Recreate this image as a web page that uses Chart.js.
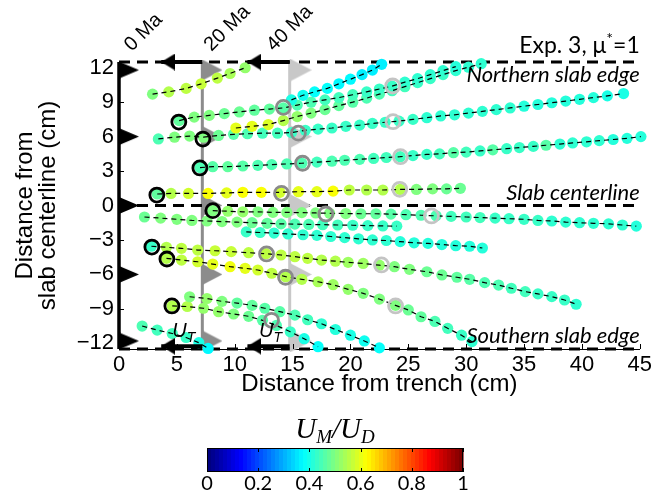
<!DOCTYPE html>
<html>
<head>
<meta charset="utf-8">
<title>Exp. 3 particle paths</title>
<script src="https://cdn.jsdelivr.net/npm/chart.js@4.4.1/dist/chart.umd.min.js"></script>
<style>
  body { margin: 0; background: #fff; }
  canvas { display: block; }
</style>
</head>
<body>
<canvas id="myChart" width="657" height="493"></canvas>
<script>
// axes
var xRange = [0, 45];
var yRange = [-12.5, 12.5];
var xTicks = [0, 5, 10, 15, 20, 25, 30, 35, 40, 45];
var yTicks = [-12, -9, -6, -3, 0, 3, 6, 9, 12];
var yTickLabels = ["\u221212", "\u22129", "\u22126", "\u22123", "0", "3", "6", "9", "12"];
var cbTicks = [0, 0.2, 0.4, 0.6, 0.8, 1];
var cbTickLabels = ["0", "0.2", "0.4", "0.6", "0.8", "1"];

// particle tracks: x (cm from trench), y (cm from slab centerline), c = U_M/U_D
var t1x = [2.9, 4.3, 5.8, 7.1, 8.5, 9.6, 10.9];
var t1y = [9.7, 9.9, 10.2, 10.6, 11.1, 11.5, 12.0];
var t1c = [0.5, 0.55, 0.56, 0.57, 0.56, 0.54, 0.52];

var t2x = [14.9, 15.9, 16.9, 18.0, 19.0, 20.0, 21.0, 21.9, 22.7];
var t2y = [9.2, 9.6, 9.9, 10.2, 10.6, 11.0, 11.4, 11.8, 12.3];
var t2c = [0.4, 0.39, 0.38, 0.38, 0.37, 0.37, 0.36, 0.36, 0.36];

var t3x = [5.2, 6.5, 7.8, 9.1, 10.4, 11.7, 13.0, 14.2, 15.4, 16.6, 17.8, 19.0, 20.2, 21.4, 22.5, 23.6, 24.7, 25.8, 26.9, 28.0, 29.1];
var t3y = [7.4, 7.7, 7.85, 8.0, 8.15, 8.3, 8.4, 8.5, 8.75, 9.0, 9.2, 9.4, 9.65, 9.9, 10.15, 10.4, 10.75, 11.05, 11.4, 11.75, 12.1];
var t3c = [0.47, 0.5, 0.5, 0.48, 0.48, 0.47, 0.47, 0.46, 0.45, 0.45, 0.44, 0.44, 0.44, 0.43, 0.43, 0.43, 0.42, 0.42, 0.42, 0.42, 0.41];

var t4x = [10.1, 11.5, 12.9, 14.2, 15.4, 16.6, 17.8, 19.0, 20.2, 21.4, 22.5, 23.6, 24.7, 25.8, 26.9, 28.0, 29.1, 30.2, 31.3];
var t4y = [6.75, 6.9, 7.05, 7.4, 7.75, 8.05, 8.35, 8.7, 9.0, 9.35, 9.7, 10.0, 10.35, 10.7, 11.05, 11.4, 11.75, 12.05, 12.35];
var t4c = [0.6, 0.6, 0.59, 0.55, 0.52, 0.5, 0.48, 0.47, 0.46, 0.45, 0.45, 0.44, 0.44, 0.43, 0.43, 0.43, 0.42, 0.42, 0.42];

var t5x = [3.4, 4.8, 6.1, 7.3, 8.6, 9.9, 11.1, 12.4, 13.7, 14.9, 16.1, 17.2, 18.4, 19.6, 20.8, 21.9, 23.0, 24.2, 25.4, 26.6, 27.8, 29.0, 30.2, 31.4, 32.6, 33.8, 35.0, 36.2, 37.4, 38.6, 39.8, 41.0, 42.2, 43.6];
var t5y = [5.8, 5.95, 6.05, 5.95, 6.1, 6.2, 6.25, 6.3, 6.3, 6.35, 6.55, 6.65, 6.75, 6.9, 7.0, 7.15, 7.25, 7.35, 7.5, 7.65, 7.8, 7.9, 8.05, 8.2, 8.35, 8.5, 8.65, 8.8, 8.95, 9.1, 9.25, 9.4, 9.55, 9.75];
var t5c = [0.45, 0.5, 0.5, 0.5, 0.48, 0.46, 0.45, 0.44, 0.44, 0.43, 0.43, 0.43, 0.43, 0.43, 0.43, 0.43, 0.43, 0.43, 0.43, 0.42, 0.42, 0.42, 0.42, 0.42, 0.42, 0.42, 0.41, 0.41, 0.41, 0.41, 0.41, 0.41, 0.4, 0.4];

var t6x = [7.0, 8.1, 9.4, 10.7, 12.0, 13.2, 14.5, 15.8, 17.1, 18.4, 19.5, 20.8, 22.0, 23.1, 24.3, 25.4, 26.6, 27.7, 28.9, 30.0, 31.2, 32.3, 33.5, 34.6, 35.8, 36.9, 38.1, 39.2, 40.4, 41.5, 42.7, 43.9, 45.1];
var t6y = [3.3, 3.38, 3.38, 3.44, 3.5, 3.56, 3.62, 3.68, 3.78, 3.86, 3.94, 4.02, 4.1, 4.18, 4.25, 4.35, 4.45, 4.5, 4.6, 4.65, 4.75, 4.85, 4.95, 5.05, 5.15, 5.25, 5.35, 5.45, 5.55, 5.65, 5.75, 5.85, 6.0];
var t6c = [0.45, 0.46, 0.47, 0.46, 0.45, 0.45, 0.45, 0.45, 0.44, 0.45, 0.45, 0.45, 0.44, 0.44, 0.44, 0.43, 0.43, 0.44, 0.46, 0.44, 0.43, 0.46, 0.43, 0.43, 0.43, 0.46, 0.42, 0.42, 0.42, 0.42, 0.41, 0.41, 0.41];

var t7x = [3.3, 4.5, 6.0, 7.7, 9.3, 10.7, 12.3, 13.9, 15.5, 17.1, 18.5, 19.9, 21.4, 22.8, 24.3, 25.7, 27.1, 28.3, 29.5];
var t7y = [1.0, 1.05, 1.05, 1.05, 1.1, 1.15, 1.15, 1.15, 1.2, 1.2, 1.25, 1.35, 1.35, 1.35, 1.4, 1.4, 1.45, 1.45, 1.5];
var t7c = [0.47, 0.55, 0.58, 0.62, 0.6, 0.62, 0.62, 0.58, 0.6, 0.6, 0.62, 0.56, 0.55, 0.55, 0.55, 0.5, 0.5, 0.48, 0.48];

var t8x = [8.1, 9.4, 10.7, 12.0, 13.3, 14.5, 15.8, 17.0, 18.2, 19.6, 20.9, 22.2, 23.5, 24.8, 26.1, 27.4, 28.7, 30.0, 31.2, 32.5, 33.7, 35.0, 36.2, 37.4, 38.6, 39.8, 41.0, 42.3, 43.5, 44.7];
var t8y = [-0.45, -0.5, -0.55, -0.55, -0.6, -0.6, -0.62, -0.65, -0.68, -0.7, -0.72, -0.72, -0.75, -0.8, -0.85, -0.9, -0.95, -1.0, -1.05, -1.1, -1.15, -1.2, -1.3, -1.35, -1.45, -1.5, -1.55, -1.6, -1.7, -1.8];
var t8c = [0.5, 0.52, 0.52, 0.5, 0.5, 0.5, 0.5, 0.5, 0.5, 0.5, 0.48, 0.47, 0.46, 0.45, 0.45, 0.45, 0.44, 0.44, 0.44, 0.43, 0.43, 0.43, 0.43, 0.42, 0.42, 0.42, 0.42, 0.42, 0.42, 0.41];

var t9x = [2.2, 3.6, 5.0, 6.3, 7.6, 8.9, 10.2, 11.5, 12.8, 14.0, 15.2, 16.4, 17.6, 18.9, 20.2, 21.5, 22.8, 24.0];
var t9y = [-1.0, -1.1, -1.2, -1.3, -1.35, -1.4, -1.45, -1.5, -1.55, -1.6, -1.62, -1.65, -1.67, -1.7, -1.72, -1.75, -1.78, -1.8];
var t9c = [0.48, 0.5, 0.5, 0.5, 0.5, 0.5, 0.5, 0.48, 0.47, 0.46, 0.45, 0.45, 0.44, 0.44, 0.43, 0.43, 0.43, 0.43];

var t10x = [11.0, 12.2, 13.4, 14.6, 15.9, 17.1, 18.3, 19.5, 20.7, 21.9, 23.1, 24.3, 25.5, 26.7, 27.9, 29.1, 30.3, 31.4];
var t10y = [-2.3, -2.35, -2.4, -2.48, -2.55, -2.6, -2.7, -2.8, -2.9, -3.0, -3.05, -3.15, -3.25, -3.3, -3.4, -3.5, -3.55, -3.7];
var t10c = [0.43, 0.43, 0.42, 0.42, 0.42, 0.42, 0.42, 0.42, 0.42, 0.42, 0.42, 0.41, 0.41, 0.41, 0.41, 0.41, 0.41, 0.41];

var t11x = [2.8, 4.1, 5.4, 6.8, 8.3, 9.7, 11.2, 12.7, 14.0, 15.2, 16.3, 17.5, 18.7, 19.8, 21.1, 22.5, 23.8, 25.1, 26.6, 27.9, 29.2, 30.3, 31.6, 32.8, 33.9, 35.1, 36.2, 37.4, 38.5, 39.5];
var t11y = [-3.55, -3.64, -3.73, -3.88, -3.94, -4.02, -4.11, -4.2, -4.31, -4.46, -4.6, -4.75, -4.85, -4.95, -5.05, -5.2, -5.33, -5.56, -5.77, -6.05, -6.25, -6.43, -6.72, -6.93, -7.21, -7.5, -7.7, -7.94, -8.23, -8.6];
var t11c = [0.43, 0.55, 0.56, 0.56, 0.57, 0.57, 0.56, 0.56, 0.56, 0.56, 0.56, 0.55, 0.55, 0.53, 0.53, 0.52, 0.5, 0.5, 0.48, 0.48, 0.47, 0.46, 0.45, 0.45, 0.44, 0.44, 0.43, 0.43, 0.43, 0.42];

var t12x = [4.1, 5.4, 6.8, 8.1, 9.6, 10.9, 12.0, 13.2, 14.4, 15.8, 17.2, 18.5, 19.8, 21.1, 22.5, 23.9, 25.0, 26.1, 27.3, 28.4, 29.6, 30.5];
var t12y = [-4.6, -4.75, -4.9, -5.1, -5.33, -5.47, -5.62, -5.9, -6.2, -6.43, -6.64, -6.9, -7.3, -7.65, -8.15, -8.7, -9.1, -9.69, -10.1, -10.7, -11.3, -11.86];
var t12c = [0.55, 0.56, 0.58, 0.6, 0.61, 0.6, 0.58, 0.56, 0.55, 0.55, 0.54, 0.53, 0.52, 0.5, 0.5, 0.5, 0.48, 0.47, 0.45, 0.44, 0.43, 0.42];

var t13x = [6.1, 7.6, 8.9, 10.2, 11.5, 12.6, 13.9, 15.2, 16.3, 17.5, 18.7, 20.0, 21.2, 22.5];
var t13y = [-7.95, -8.1, -8.35, -8.5, -8.7, -8.95, -9.25, -9.55, -9.95, -10.3, -10.8, -11.3, -11.8, -12.4];
var t13c = [0.5, 0.52, 0.5, 0.47, 0.47, 0.46, 0.46, 0.45, 0.44, 0.42, 0.41, 0.4, 0.39, 0.38];

var t14x = [4.6, 5.9, 7.3, 8.6, 9.9, 11.2, 12.4, 13.6, 14.8, 16.0, 17.2];
var t14y = [-8.75, -8.8, -8.95, -9.25, -9.45, -9.65, -10.0, -10.45, -11.0, -11.6, -12.3];
var t14c = [0.55, 0.55, 0.52, 0.52, 0.5, 0.48, 0.46, 0.45, 0.43, 0.4, 0.38];

var t15x = [2.0, 3.3, 4.6, 5.8, 6.9, 7.7];
var t15y = [-10.5, -10.85, -11.15, -11.5, -11.95, -12.45];
var t15c = [0.45, 0.44, 0.44, 0.43, 0.4, 0.37];

// particle positions at 0, 20 and 40 Ma
var ma0X = [5.17, 7.25, 6.99, 3.27, 8.11, 2.84, 4.14, 4.57];
var ma0Y = [7.27, 5.79, 3.27, 0.91, -0.45, -3.62, -4.66, -8.75];
var ma20X = [14.2, 15.5, 15.86, 14.04, 17.87, 12.75, 14.39, 13.18];
var ma20Y = [8.55, 6.3, 3.68, 1.06, -0.74, -4.22, -6.25, -10.0];
var ma40X = [23.65, 23.68, 24.32, 24.26, 27.0, 22.68, 23.9];
var ma40Y = [10.41, 7.3, 4.25, 1.41, -0.91, -5.18, -8.75];

// trench positions at 0, 20, 40 Ma and trench-motion arrows
var trenchX = [0, 7.2, 14.75];
var flagY = [11.8, 6, 0, -6, -11.8];
var edgeY = [12.5, 0, -12.5];
var arrowY = [12.5, -12.25];
var arrowTailX = [7.2, 14.75];
var arrowTipX = [3.65, 11.1];

var timeLabels = ["0 Ma", "20 Ma", "40 Ma"];
var timeLabelX = [1.1, 8.0, 13.4];
var edgeLabels = ["Northern slab edge", "Slab centerline", "Southern slab edge"];
var edgeLabelY = [10.76, 0.48, -11.98];
var utLabelX = [4.6, 12.1];
var utLabelY = -11.45;
var expLabelY = 13.3;

function jet(v) {
    var r = Math.min(1, Math.max(0, 1.5 - Math.abs(4 * v - 3)));
    var g = Math.min(1, Math.max(0, 1.5 - Math.abs(4 * v - 2)));
    var b = Math.min(1, Math.max(0, 1.5 - Math.abs(4 * v - 1)));
    return "rgb(" + Math.round(r * 255) + "," + Math.round(g * 255) + "," + Math.round(b * 255) + ")";
}

function pts(xs, ys) {
    return xs.map(function (x, i) { return { x: x, y: ys[i] }; });
}

// right-pointing flag whose flat side sits on the point
function flagImage(color, w, h) {
    var c = document.createElement("canvas");
    c.width = w * 2;
    c.height = h;
    var g = c.getContext("2d");
    g.fillStyle = color;
    g.beginPath();
    g.moveTo(w, 0);
    g.lineTo(2 * w, h / 2);
    g.lineTo(w, h);
    g.closePath();
    g.fill();
    return c;
}

// left-pointing arrow head whose tip sits on the point
function headImage(w, h) {
    var c = document.createElement("canvas");
    c.width = w * 2;
    c.height = h;
    var g = c.getContext("2d");
    g.fillStyle = "#000";
    g.beginPath();
    g.moveTo(w, h / 2);
    g.lineTo(2 * w, 0);
    g.lineTo(2 * w, h);
    g.closePath();
    g.fill();
    return c;
}

var tracks = [
    [t1x, t1y, t1c], [t2x, t2y, t2c], [t3x, t3y, t3c], [t4x, t4y, t4c], [t5x, t5y, t5c],
    [t6x, t6y, t6c], [t7x, t7y, t7c], [t8x, t8y, t8c], [t9x, t9y, t9c], [t10x, t10y, t10c],
    [t11x, t11y, t11c], [t12x, t12y, t12c], [t13x, t13y, t13c], [t14x, t14y, t14c], [t15x, t15y, t15c]
];

var timeColors = ["#000000", "#8c8c8c", "#c8c8c8"];
var flagSizes = [[20, 17], [20, 21], [22, 23]];
var datasets = [];

trenchX.forEach(function (x, i) {
    datasets.push({
        data: [{ x: x, y: yRange[0] }, { x: x, y: yRange[1] }],
        showLine: true, borderColor: timeColors[i], borderWidth: i === 0 ? 3.5 : 3,
        pointRadius: 0, order: 20, clip: false
    });
    datasets.push({
        data: flagY.map(function (y) { return { x: x, y: y }; }),
        pointStyle: flagImage(timeColors[i], flagSizes[i][0], flagSizes[i][1]),
        pointRadius: 5, showLine: false, order: 16, clip: false
    });
});

edgeY.forEach(function (y) {
    datasets.push({
        data: [{ x: xRange[0], y: y }, { x: xRange[1], y: y }],
        showLine: true, borderColor: "#000", borderWidth: 3, borderDash: [11, 7],
        pointRadius: 0, order: 17, clip: false
    });
});

tracks.forEach(function (t) {
    datasets.push({
        data: pts(t[0], t[1]),
        showLine: false, pointRadius: 5.6, pointBorderWidth: 0,
        pointBackgroundColor: t[2].map(jet), order: 15, clip: false
    });
    datasets.push({
        data: pts(t[0], t[1]),
        showLine: true, borderColor: "#000", borderWidth: 1.2, borderDash: [5, 4],
        pointRadius: 0, order: 12, clip: false
    });
});

[[ma0X, ma0Y], [ma20X, ma20Y], [ma40X, ma40Y]].forEach(function (m, i) {
    datasets.push({
        data: pts(m[0], m[1]),
        showLine: false, pointRadius: 7, pointBorderWidth: 2.8,
        pointBorderColor: i === 0 ? "#000" : (i === 1 ? "#8a8a8a" : "#c4c4c4"),
        pointBackgroundColor: "rgba(0,0,0,0)", order: 5 - i, clip: false
    });
});

var head = headImage(14, 17);
arrowY.forEach(function (y) {
    arrowTailX.forEach(function (x, i) {
        datasets.push({
            data: [{ x: x, y: y }, { x: arrowTipX[i], y: y }],
            showLine: true, borderColor: "#000", borderWidth: 4,
            pointRadius: [0, 5], pointStyle: head, order: 1, clip: false
        });
    });
});

function drawRuns(ctx, runs, x, y, align) {
    var total = 0;
    runs.forEach(function (r) { ctx.font = r.font; total += ctx.measureText(r.t).width; });
    var cx = align === "right" ? x - total : (align === "center" ? x - total / 2 : x);
    runs.forEach(function (r) {
        ctx.font = r.font;
        ctx.fillText(r.t, cx, y + (r.dy || 0));
        cx += ctx.measureText(r.t).width;
    });
}

var annotations = {
    id: "annotations",
    afterDraw: function (chart) {
        var ctx = chart.ctx, xs = chart.scales.x, ys = chart.scales.y, area = chart.chartArea;
        ctx.save();
        ctx.strokeStyle = "#000";
        ctx.lineWidth = 1;
        xTicks.forEach(function (v) {
            var px = Math.round(xs.getPixelForValue(v)) + 0.5;
            ctx.beginPath(); ctx.moveTo(px, area.bottom); ctx.lineTo(px, area.bottom - 5); ctx.stroke();
        });
        yTicks.forEach(function (v) {
            var py = Math.round(ys.getPixelForValue(v)) + 0.5;
            ctx.beginPath(); ctx.moveTo(area.left, py); ctx.lineTo(area.left + 5, py); ctx.stroke();
        });

        ctx.fillStyle = "#000";
        ctx.textBaseline = "alphabetic";
        ctx.textAlign = "left";
        ctx.font = "20px 'Liberation Sans'";
        timeLabels.forEach(function (t, i) {
            ctx.save();
            ctx.translate(xs.getPixelForValue(timeLabelX[i]), area.top - 10);
            ctx.rotate(-Math.PI / 4);
            ctx.fillText(t, 0, 0);
            ctx.restore();
        });

        ctx.font = "italic 22px Lato";
        ctx.textAlign = "right";
        edgeLabels.forEach(function (t, i) {
            ctx.fillText(t, area.right, ys.getPixelForValue(edgeLabelY[i]));
        });
        ctx.textAlign = "left";
        drawRuns(ctx, [
            { t: "Exp. 3, \u03bc", font: "23px Lato" },
            { t: "*", font: "16px Lato", dy: -9 },
            { t: "=1", font: "23px Lato" }
        ], area.right, ys.getPixelForValue(expLabelY), "right");

        utLabelX.forEach(function (x) {
            drawRuns(ctx, [
                { t: "U", font: "italic 20px 'Liberation Sans'" },
                { t: "T", font: "italic 14px 'Liberation Sans'", dy: 5 }
            ], xs.getPixelForValue(x), ys.getPixelForValue(utLabelY), "left");
        });

        // colour bar
        var L = 207, R = 463, T = 448, B = 472, n = 64;
        for (var k = 0; k < n; k++) {
            ctx.fillStyle = jet(k / (n - 1));
            ctx.fillRect(L + (R - L) * k / n, T, (R - L) / n + 0.6, B - T);
        }
        ctx.strokeStyle = "#000";
        ctx.lineWidth = 1;
        ctx.strokeRect(L + 0.5, T + 0.5, R - L - 1, B - T - 1);
        ctx.fillStyle = "#000";
        ctx.font = "20px Lato";
        ctx.textAlign = "center";
        ctx.textBaseline = "middle";
        cbTicks.forEach(function (v, i) {
            var px = Math.round(L + (R - L) * v) + 0.5;
            ctx.beginPath(); ctx.moveTo(px, T); ctx.lineTo(px, T + 4); ctx.moveTo(px, B); ctx.lineTo(px, B - 4); ctx.stroke();
            ctx.fillText(cbTickLabels[i], L + (R - L) * v, 484);
        });
        ctx.textAlign = "left";
        ctx.textBaseline = "alphabetic";
        drawRuns(ctx, [
            { t: "U", font: "italic 29px 'Liberation Serif'" },
            { t: "M", font: "italic 19px 'Liberation Serif'", dy: 5 },
            { t: "/U", font: "italic 29px 'Liberation Serif'" },
            { t: "D", font: "italic 19px 'Liberation Serif'", dy: 5 }
        ], (L + R) / 2, 438, "center");
        ctx.restore();
    }
};

var ctx = document.getElementById("myChart").getContext("2d");
var myChart = new Chart(ctx, {
    type: "scatter",
    data: { datasets: datasets },
    options: {
        responsive: false,
        animation: false,
        devicePixelRatio: 1,
        events: [],
        layout: { padding: { left: 0, right: 17, top: 62, bottom: 97 }, autoPadding: false },
        plugins: { legend: { display: false }, tooltip: { enabled: false } },
        scales: {
            x: {
                type: "linear", min: xRange[0], max: xRange[1],
                afterBuildTicks: function (s) { s.ticks = xTicks.map(function (v) { return { value: v }; }); },
                afterFit: function (s) { s.height = 47; },
                grid: { display: false, drawTicks: false, tickLength: 0 },
                border: { display: true, color: "#000", width: 1 },
                ticks: { color: "#000", padding: 5, maxRotation: 0, autoSkip: false,
                         font: { family: "Liberation Sans", size: 22, lineHeight: 1 } },
                title: { display: true, text: "Distance from trench (cm)", color: "#000", padding: 0,
                         font: { family: "Liberation Sans", size: 24, lineHeight: 1 } }
            },
            y: {
                type: "linear", min: yRange[0], max: yRange[1],
                afterBuildTicks: function (s) { s.ticks = yTicks.map(function (v) { return { value: v }; }); },
                afterFit: function (s) { s.width = 119; },
                grid: { display: false, drawTicks: false, tickLength: 0 },
                border: { display: true, color: "#000", width: 1 },
                ticks: { color: "#000", padding: 5, autoSkip: false,
                         font: { family: "Liberation Sans", size: 22 },
                         callback: function (v) { return yTickLabels[yTicks.indexOf(v)]; } },
                title: { display: true, text: ["Distance from", "slab centerline (cm)"], color: "#000",
                         padding: { top: 13.5, bottom: 0 },
                         font: { family: "Liberation Sans", size: 24, lineHeight: 0.96 } }
            }
        }
    },
    plugins: [annotations]
});
</script>
</body>
</html>
